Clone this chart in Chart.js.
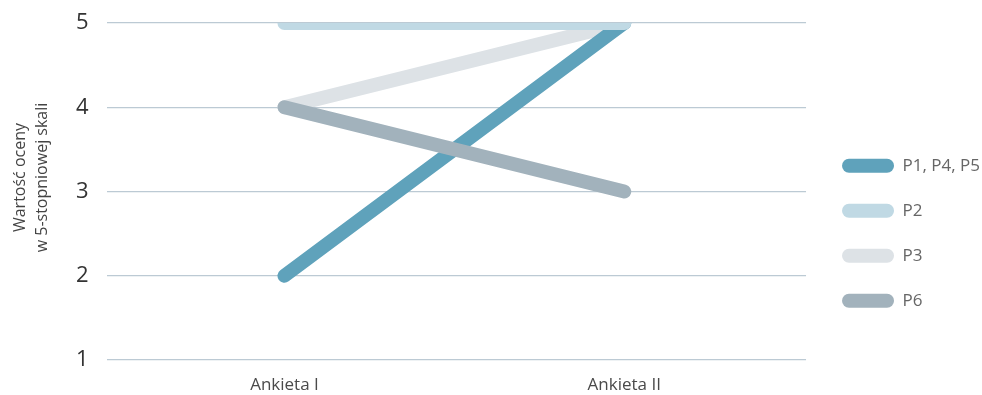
<!DOCTYPE html>
<html>
<head>
<meta charset="utf-8">
<script src="https://cdn.jsdelivr.net/npm/chart.js@4/dist/chart.umd.min.js"></script>
<style>
  html, body { margin: 0; padding: 0; background: #fff; }
  #wrap { width: 982px; height: 395px; position: relative; }
</style>
</head>
<body>
<div id="wrap"><canvas id="c"></canvas></div>
<script>
// Survey rounds on the x axis
const categories = ['Ankieta I', 'Ankieta II'];

// Ratings on a 5-point scale per participant group
const seriesNames = ['P1, P4, P5', 'P2', 'P3', 'P6'];
const p1p4p5 = [2, 5];
const p2 = [5, 5];
const p3 = [4, 5];
const p6 = [4, 3];

const yTicks = [1, 2, 3, 4, 5];
const yTitleLines = ['Wartość oceny', 'w 5-stopniowej skali'];

const colors = ['#5fa2bb', '#c0d9e4', '#dde2e6', '#a2b2bc'];
// Stacking of lines: lower value is drawn on top
const drawOrder = [2, 0, 3, 1];

const seriesValues = [p1p4p5, p2, p3, p6];
const datasets = seriesNames.map((name, i) => ({
  label: name,
  data: seriesValues[i].map((v, j) => ({ x: j, y: v })),
  borderColor: colors[i],
  backgroundColor: colors[i],
  borderWidth: 14,
  borderCapStyle: 'round',
  borderJoinStyle: 'round',
  pointRadius: 0,
  pointHoverRadius: 0,
  order: drawOrder[i],
  fill: false,
  tension: 0
}));

const fontFamily = '"Open Sans", "Noto Sans", sans-serif';
const yTitleFont = { family: fontFamily, size: 16, lineHeight: 22 };
const yTitleBlock = 52;   // width reserved left of the y tick labels

// Nudge the legend a little towards the right edge after layout
const legendNudge = {
  id: 'legendNudge',
  afterLayout(chart) {
    if (chart.legend) {
      chart.legend.left += 8;
      chart.legend.right += 8;
    }
  }
};

// Two-line rotated y-axis title, set slightly above the plot's middle
const yTitle = {
  id: 'yTitle',
  afterDraw(chart) {
    const { ctx, chartArea } = chart;
    const yScale = chart.scales.y;
    const cx = yScale.left + 6 + yTitleBlock / 2 - 1;
    const cy = (chartArea.top + chartArea.bottom) / 2 - 14;
    ctx.save();
    ctx.translate(cx, cy);
    ctx.rotate(-Math.PI / 2);
    ctx.fillStyle = '#444';
    ctx.font = `${yTitleFont.size}px ${yTitleFont.family}`;
    ctx.textAlign = 'center';
    ctx.textBaseline = 'middle';
    const n = yTitleLines.length;
    yTitleLines.forEach((line, i) => {
      ctx.fillText(line, 0, (i - (n - 1) / 2) * yTitleFont.lineHeight);
    });
    ctx.restore();
  }
};

new Chart(document.getElementById('c'), {
  type: 'line',
  data: { datasets },
  plugins: [legendNudge, yTitle],
  options: {
    responsive: true,
    maintainAspectRatio: false,
    animation: false,
    layout: { padding: { top: 23, left: 0, right: 0, bottom: 0 } },
    plugins: {
      tooltip: { enabled: false },
      legend: {
        position: 'right',
        align: 'center',
        title: { display: true, text: '', padding: { top: 34 } },
        labels: {
          sort: (a, b) => a.datasetIndex - b.datasetIndex,
          boxWidth: 52,
          boxHeight: 14,
          useBorderRadius: true,
          borderRadius: 7,
          padding: 28,
          color: '#3d3d3d',
          font: { family: fontFamily, size: 17 },
          generateLabels: (chart) => chart.data.datasets.map((ds, i) => ({
            text: ds.label,
            fillStyle: ds.borderColor,
            strokeStyle: ds.borderColor,
            lineWidth: 0,
            hidden: false,
            datasetIndex: i,
            borderRadius: 7
          }))
        }
      }
    },
    scales: {
      x: {
        type: 'linear',
        min: -0.5235,
        max: 1.535,
        afterBuildTicks: (axis) => { axis.ticks = categories.map((_, i) => ({ value: i })); },
        afterFit: (axis) => { axis.height = 35; },
        ticks: {
          callback: (v) => categories[v],
          color: '#4a4a4a',
          font: { family: fontFamily, size: 17 },
          padding: 7,
          maxRotation: 0
        },
        grid: { display: false },
        border: { display: false }
      },
      y: {
        min: 1,
        max: 5,
        afterBuildTicks: (axis) => { axis.ticks = yTicks.map(v => ({ value: v })); },
        afterFit: (axis) => {
          axis.paddingTop = 0;
          axis.paddingBottom = 0;
          axis.width += yTitleBlock + 6;
        },
        ticks: {
          color: '#333',
          font: { family: fontFamily, size: 22 },
          padding: 18
        },
        grid: { color: '#bccad4', lineWidth: 1.3, drawTicks: false },
        border: { display: false },
        title: { display: false }
      }
    }
  }
});
</script>
</body>
</html>
